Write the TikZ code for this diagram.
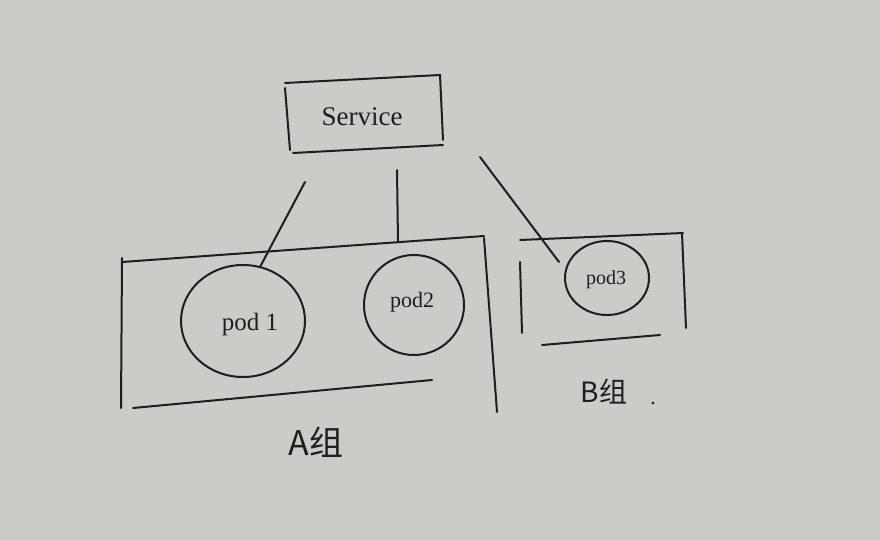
\documentclass[tikz,border=0pt]{standalone}
\usepackage{fontspec}
\setmainfont{Liberation Serif}
\newfontfamily\cjk{Noto Sans CJK SC}
\usetikzlibrary{shapes.geometric}
\definecolor{paper}{RGB}{203,203,200}
\definecolor{ink}{RGB}{30,30,30}
\begin{document}
\begin{tikzpicture}[x=1pt,y=-1pt,
  stroke/.style={draw=ink,line width=2pt,line cap=round},
  pod/.style={ellipse,draw=ink,line width=2pt,text=ink,inner sep=0pt},
  lbl/.style={text=ink,inner sep=0pt}]
\fill[paper] (0,0) rectangle (880,540);
\useasboundingbox (0,0) rectangle (880,540);
% Service box
\node[lbl,font=\fontsize{27}{29}\selectfont] (svc) at (362,117) {Service};
\draw[stroke] (285,83) -- (440,75);
\draw[stroke] (285,88) -- (290,150);
\draw[stroke] (440,75) -- (443,140);
\draw[stroke] (293,153) -- (443,145);
% pods
\node[pod,minimum width=124pt,minimum height=112pt] (pod1) at (243,321) {};
\node[lbl,font=\fontsize{25}{27}\selectfont] (t1) at (250,324) {pod 1};
\node[pod,minimum width=100pt,minimum height=100pt] (pod2) at (414,305) {};
\node[lbl,font=\fontsize{22}{24}\selectfont] (t2) at (412,302) {pod2};
\node[pod,minimum width=84pt,minimum height=74pt] (pod3) at (607,278) {};
\node[lbl,font=\fontsize{20}{22}\selectfont] (t3) at (606,280) {pod3};
% group A box
\draw[stroke] (122,262) -- (484,236);
\draw[stroke] (122,258) -- (121,408);
\draw[stroke] (133,408) -- (432,380);
\draw[stroke] (484,238) -- (497,412);
% group B box
\draw[stroke] (520,240) -- (683,233);
\draw[stroke] (520,262) -- (522,333);
\draw[stroke] (682,233) -- (686,328);
\draw[stroke] (542,345) -- (660,335);
% labels
\node[lbl,font=\cjk\fontsize{34}{36}\selectfont] (ga) at (316,442) {A组};
\node[lbl,font=\cjk\fontsize{28}{30}\selectfont] (gb) at (604,392) {B组};
\node[lbl,font=\fontsize{22}{22}\selectfont] (dot) at (653,404) {.};
% connector start points below the service box
\coordinate (c1) at (305,182);
\coordinate (c2) at (397,170);
\coordinate (c3) at (480,157);
% connectors
\draw[stroke] (c1) -- ([xshift=17pt,yshift=-3pt]pod1.north);
\draw[stroke] (c2) -- ([xshift=-16pt,yshift=12pt]pod2.north);
\draw[stroke] (c3) -- ([xshift=-5pt,yshift=16pt]pod3.west);
\end{tikzpicture}
\end{document}
